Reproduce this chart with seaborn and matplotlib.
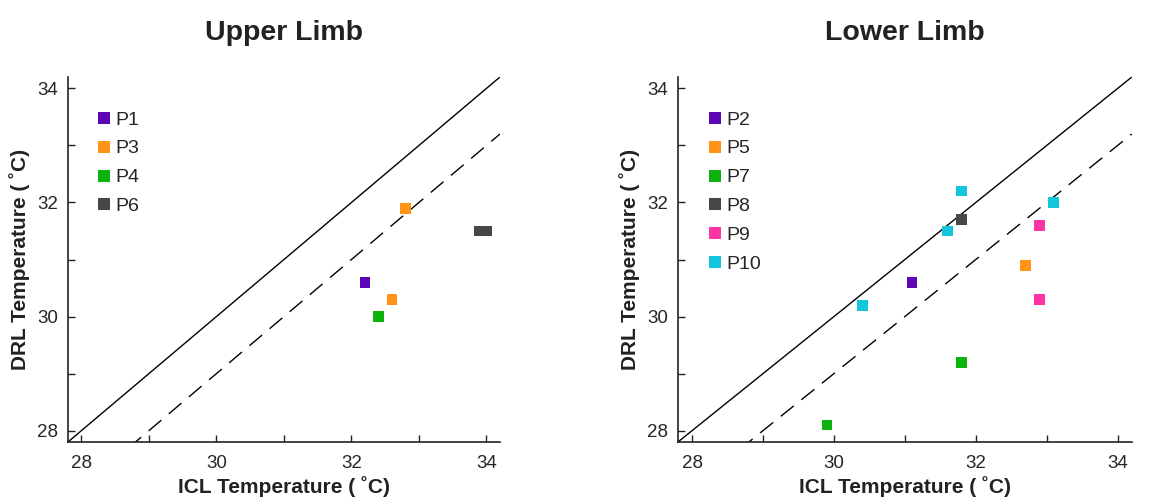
import numpy as np
import pandas as pd
import seaborn as sns
import matplotlib.pyplot as plt

# upper limb
upper_id = ['P1', 'P3', 'P3', 'P4', 'P6', 'P6']
upper_icl = [32.2, 32.8, 32.6, 32.4, 33.9, 34.0]
upper_drl = [30.6, 31.9, 30.3, 30.0, 31.5, 31.5]

# lower limb
lower_id = ['P2', 'P5', 'P7', 'P7', 'P8', 'P9', 'P9', 'P10', 'P10', 'P10', 'P10']
lower_icl = [31.1, 32.7, 29.9, 31.8, 31.8, 32.9, 32.9, 31.8, 31.6, 33.1, 30.4]
lower_drl = [30.6, 30.9, 28.1, 29.2, 31.7, 31.6, 30.3, 32.2, 31.5, 32.0, 30.2]

upper_order = ['P1', 'P3', 'P4', 'P6']
lower_order = ['P2', 'P5', 'P7', 'P8', 'P9', 'P10']
colors = {'P1': '#5c06b6', 'P2': '#5c06b6', 'P3': '#ff9418', 'P5': '#ff9418',
          'P4': '#0db30d', 'P7': '#0db30d', 'P6': '#474747', 'P8': '#474747',
          'P9': '#ff34a4', 'P10': '#12c6de'}

sns.set_style("white")
plt.rcParams['font.family'] = ['Liberation Sans', 'DejaVu Sans']

fig = plt.figure(figsize=(11.52, 5), dpi=100)
ax1 = fig.add_axes([0.059, 0.116, 0.375, 0.73])
ax2 = fig.add_axes([0.5885, 0.116, 0.394, 0.73])

panels = [(ax1, 'Upper Limb', upper_id, upper_icl, upper_drl, upper_order),
          (ax2, 'Lower Limb', lower_id, lower_icl, lower_drl, lower_order)]

lims = (27.8, 34.2)
for ax, title, pid, icl, drl, order in panels:
    df = pd.DataFrame({'pid': pid, 'ICL': icl, 'DRL': drl})
    ax.plot(lims, lims, color='black', lw=1)
    ax.plot(lims, [lims[0] - 1, lims[1] - 1], color='black', lw=1, dashes=(12, 7))
    sns.scatterplot(data=df, x='ICL', y='DRL', hue='pid', hue_order=order,
                    palette=colors, marker='s', s=60, linewidth=0, ax=ax, zorder=3)
    ax.set_xlim(lims)
    ax.set_ylim(lims)
    ticks = np.arange(28, 35)
    ax.set_xticks(ticks)
    ax.set_yticks(ticks)
    labels = [str(t) if t % 2 == 0 else '' for t in ticks]
    ax.set_xticklabels(labels)
    ax.set_yticklabels(labels)
    ax.tick_params(direction='in', length=5, width=1, labelsize=13.5, color='#222222',
                   bottom=True, left=True)
    ax.tick_params(axis='x', pad=9)
    ax.tick_params(axis='y', pad=7)
    for side in ['top', 'right']:
        ax.spines[side].set_visible(False)
    for side in ['left', 'bottom']:
        ax.spines[side].set_color('#222222')
        ax.spines[side].set_linewidth(1.2)
    ax.set_title(title, fontsize=20.5, fontweight='bold', pad=27, color='#222222')
    ax.set_xlabel('ICL Temperature ( ˚C)', fontsize=15, fontweight='bold', labelpad=3, color='#222222')
    ax.set_ylabel('DRL Temperature ( ˚C)', fontsize=15, fontweight='bold', labelpad=5, color='#222222')
    leg = ax.legend(frameon=False, loc='upper left', bbox_to_anchor=(0.025, 0.955),
                    fontsize=14, handlelength=0.8, handletextpad=0.2,
                    labelspacing=0.58, markerscale=1.15)

fig.savefig('out.png', dpi=100)
